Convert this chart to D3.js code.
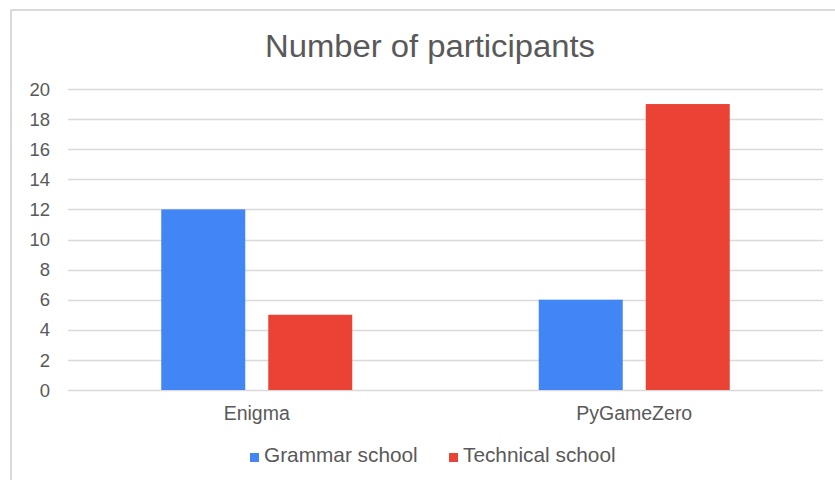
<!DOCTYPE html>
<html>
<head>
<meta charset="utf-8">
<script src="https://cdn.jsdelivr.net/npm/d3@7"></script>
<style>
  body { margin: 0; background: #fff; }
  svg { display: block; font-family: "Liberation Sans", Arial, sans-serif; }
</style>
</head>
<body>
<div id="chart"></div>
<script>
const categories = ["Enigma", "PyGameZero"];
const seriesNames = ["Grammar school", "Technical school"];
const grammarValues = [12, 6];
const technicalValues = [5, 19];
const yTicks = [0, 2, 4, 6, 8, 10, 12, 14, 16, 18, 20];

const colors = ["#4285f4", "#ea4335"];
const textColor = "#595959";
const gridColor = "#d9d9d9";

const svgWidth = 835;
const svgHeight = 480;
const margin = { top: 89, right: 12, bottom: 90, left: 68 };
const width = svgWidth - margin.left - margin.right;
const height = svgHeight - margin.top - margin.bottom;

const data = categories.map((c, i) => ({
    category: c,
    values: [grammarValues[i], technicalValues[i]]
}));

const svg = d3.select("#chart")
    .append("svg")
    .attr("width", svgWidth)
    .attr("height", svgHeight);

// chart frame
svg.append("path")
    .attr("d", `M11,${svgHeight} L11,10 L${svgWidth},10`)
    .attr("fill", "none")
    .attr("stroke", gridColor)
    .attr("stroke-width", 2);

svg.append("text")
    .attr("x", 430)
    .attr("y", 57)
    .attr("text-anchor", "middle")
    .attr("fill", textColor)
    .attr("font-size", "31px")
    .attr("textLength", 330)
    .attr("lengthAdjust", "spacingAndGlyphs")
    .text("Number of participants");

const g = svg.append("g")
    .attr("transform", `translate(${margin.left},${margin.top})`);

const x = d3.scaleBand()
    .domain(categories)
    .range([0, width]);

const barWidth = 84;
const barGap = 23;

const y = d3.scaleLinear()
    .domain([0, 20])
    .range([height, 0]);

// gridlines
g.append("g")
    .selectAll("line")
    .data(yTicks)
    .enter().append("line")
    .attr("x1", 0)
    .attr("x2", width)
    .attr("y1", d => Math.round(y(d)) + 0.5)
    .attr("y2", d => Math.round(y(d)) + 0.5)
    .attr("stroke", gridColor)
    .attr("stroke-width", 1.5);

// y labels
g.append("g")
    .selectAll("text")
    .data(yTicks)
    .enter().append("text")
    .attr("x", -18)
    .attr("y", d => y(d))
    .attr("dy", "0.36em")
    .attr("text-anchor", "end")
    .attr("fill", textColor)
    .attr("font-size", "18.5px")
    .text(d => d);

// bars
const groups = g.selectAll(".group")
    .data(data)
    .enter().append("g")
    .attr("class", "group")
    .attr("transform", d => `translate(${x(d.category) + x.bandwidth() / 2},0)`);

groups.selectAll("rect")
    .data(d => d.values)
    .enter().append("rect")
    .attr("x", (d, i) => i === 0 ? -barWidth - barGap / 2 : barGap / 2)
    .attr("y", d => y(d))
    .attr("width", barWidth)
    .attr("height", d => height - y(d))
    .attr("fill", (d, i) => colors[i]);

// category labels
g.append("g")
    .selectAll("text")
    .data(categories)
    .enter().append("text")
    .attr("x", d => x(d) + x.bandwidth() / 2)
    .attr("y", 420 - margin.top)
    .attr("text-anchor", "middle")
    .attr("fill", textColor)
    .attr("font-size", "19.5px")
    .text(d => d);

// legend
const legendX = [250, 449];
const legend = svg.append("g");

seriesNames.forEach((name, i) => {
    legend.append("rect")
        .attr("x", legendX[i])
        .attr("y", 453)
        .attr("width", 9)
        .attr("height", 9)
        .attr("fill", colors[i]);
    legend.append("text")
        .attr("x", legendX[i] + 14)
        .attr("y", 462)
        .attr("fill", textColor)
        .attr("font-size", "20.8px")
        .text(name);
});
</script>
</body>
</html>
